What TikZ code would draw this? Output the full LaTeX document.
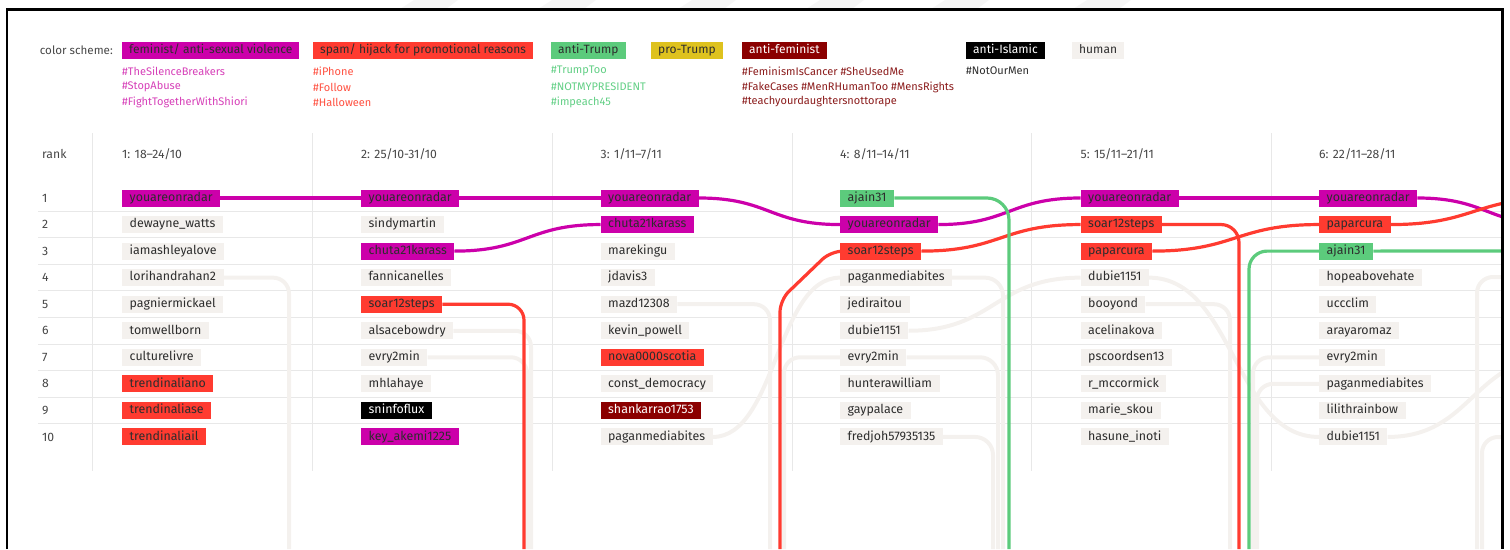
\documentclass[tikz,border=0pt]{standalone}
\usepackage{fontspec}
\setmainfont{Fira Sans}
\usetikzlibrary{calc}
\definecolor{cfem}{RGB}{204,0,170}
\definecolor{cspam}{RGB}{255,59,48}
\definecolor{catr}{RGB}{92,203,124}
\definecolor{cptr}{RGB}{222,194,30}
\definecolor{cafem}{RGB}{139,0,0}
\definecolor{chum}{RGB}{244,241,238}
\definecolor{clhum}{RGB}{244,241,238}
\definecolor{tdark}{RGB}{45,45,45}
\definecolor{tgray}{RGB}{70,70,70}
\definecolor{tfem}{RGB}{214,64,184}
\definecolor{tspam}{RGB}{255,80,64}
\definecolor{tatr}{RGB}{98,207,133}
\definecolor{tafem}{RGB}{139,28,28}
\definecolor{gridc}{RGB}{232,232,232}
\definecolor{wmark}{RGB}{246,246,246}
\pgfdeclarelayer{grid}\pgfdeclarelayer{hline}\pgfdeclarelayer{cline}
\pgfsetlayers{grid,hline,cline,main}
\newcommand\slink[3]{\draw[#1] let \p1=(#2.east), \p2=(#3) in (\p1) .. controls ({(\x1+\x2)/2},\y1) and ({(\x1+\x2)/2},\y2) .. (\p2);}
\begin{document}
\begin{tikzpicture}[x=1pt,y=-1pt,
  box/.style={anchor=west, inner xsep=7.5pt, inner ysep=0pt, minimum height=17pt, text height=9.2pt, text depth=2.6pt, font=\fontsize{12.4}{14}\selectfont, text=tdark},
  lgbox/.style={box, inner xsep=7pt, font=\fontsize{12}{14}\selectfont},
  bfem/.style={fill=cfem},
  bspam/.style={fill=cspam},
  batr/.style={fill=catr},
  bptr/.style={fill=cptr},
  bafem/.style={fill=cafem, text=white},
  bisl/.style={fill=black, text=white},
  bhum/.style={fill=chum},
  lab/.style={anchor=west, inner sep=0pt, font=\fontsize{12.2}{14}\selectfont, text=tgray},
  tag/.style={anchor=west, inner sep=0pt, font=\fontsize{11}{12}\selectfont},
  lfem/.style={draw=cfem, line width=3.2pt},
  lspam/.style={draw=cspam, line width=3.2pt},
  latr/.style={draw=catr, line width=3.2pt},
  lhum/.style={draw=clhum, line width=4pt},
  gridline/.style={draw=gridc, line width=1pt}]
\useasboundingbox (0,0) rectangle (1510,549);

% faint watermark above frame
\foreach \a in {400,538,678,806,931,1073}
  \fill[wmark] (\a,9) -- (\a+14,0) -- (\a+58,0) -- (\a+46,9) -- cycle;

% legend
\node[lab, anchor=east, font=\fontsize{11.6}{14}\selectfont] (lgtitle) at (113,50) {color scheme:};
\node[lgbox,bfem] (lgfem) at (122,50) {feminist/ anti-sexual violence};
\node[lgbox,bspam] (lgspam) at (313,50) {spam/ hijack for promotional reasons};
\node[lgbox,batr] (lgatr) at (551,50) {anti-Trump};
\node[lgbox,bptr] (lgptr) at (651,50) {pro-Trump};
\node[lgbox,bafem] (lgafem) at (742,50) {anti-feminist};
\node[lgbox,bisl] (lgisl) at (966,50) {anti-Islamic};
\node[lgbox,bhum] (lghum) at (1072,50) {human};
\node[tag,text=tfem] (tf1) at (122,71) {\#TheSilenceBreakers};
\node[tag,text=tfem] (tf2) at (122,87) {\#StopAbuse};
\node[tag,text=tfem] (tf3) at (122,102) {\#FightTogetherWithShiori};
\node[tag,text=tspam] (ts1) at (313,71) {\#iPhone};
\node[tag,text=tspam] (ts2) at (313,87) {\#Follow};
\node[tag,text=tspam] (ts3) at (313,102) {\#Halloween};
\node[tag,text=tatr] (ta1) at (551,71) {\#TrumpToo};
\node[tag,text=tatr] (ta2) at (551,87) {\#NOTMYPRESIDENT};
\node[tag,text=tatr] (ta3) at (551,102) {\#impeach45};
\node[tag,text=tafem] (tm1) at (742,71) {\#FeminismIsCancer \#SheUsedMe};
\node[tag,text=tafem] (tm2) at (742,87) {\#FakeCases \#MenRHumanToo \#MensRights};
\node[tag,text=tafem] (tm3) at (742,102) {\#teachyourdaughtersnottorape};
\node[tag,text=tdark] (ti1) at (966,71) {\#NotOurMen};

% headers
\node[lab] (hrank) at (42,154) {rank};
\node[lab] (h1) at (122,154) {1: 18–24/10};
\node[lab] (h2) at (361,154) {2: 25/10-31/10};
\node[lab] (h3) at (600.5,154) {3: 1/11–7/11};
\node[lab] (h4) at (840,154) {4: 8/11–14/11};
\node[lab] (h5) at (1080.5,154) {5: 15/11–21/11};
\node[lab] (h6) at (1319,154) {6: 22/11–28/11};
\foreach \r in {1,...,10}
  \node[lab] (rk\r) at (42,{198+(\r-1)*26.55}) {\r};

% grid
\begin{pgfonlayer}{grid}
\foreach \r in {1,...,9}
  \draw[gridline] (38,{211.3+(\r-1)*26.55}) -- (1501,{211.3+(\r-1)*26.55});
\foreach \x in {92,312,552,792,1031,1271}
  \draw[gridline] (\x,133) -- (\x,471);
\end{pgfonlayer}

% columns
\foreach \t/\s [count=\r] in {youareonradar/bfem, dewayne\_watts/bhum, iamashleyalove/bhum, lorihandrahan2/bhum, pagniermickael/bhum, tomwellborn/bhum, culturelivre/bhum, trendinaliano/bspam, trendinaliase/bspam, trendinaliail/bspam}
  \node[box,\s] (c1r\r) at (122,{198+(\r-1)*26.55}) {\t};
\foreach \t/\s [count=\r] in {youareonradar/bfem, sindymartin/bhum, chuta21karass/bfem, fannicanelles/bhum, soar12steps/bspam, alsacebowdry/bhum, evry2min/bhum, mhlahaye/bhum, sninfoflux/bisl, key\_akemi1225/bfem}
  \node[box,\s] (c2r\r) at (361,{198+(\r-1)*26.55}) {\t};
\foreach \t/\s [count=\r] in {youareonradar/bfem, chuta21karass/bfem, marekingu/bhum, jdavis3/bhum, mazd12308/bhum, kevin\_powell/bhum, nova0000scotia/bspam, const\_democracy/bhum, shankarrao1753/bafem, paganmediabites/bhum}
  \node[box,\s] (c3r\r) at (600.5,{198+(\r-1)*26.55}) {\t};
\foreach \t/\s [count=\r] in {ajain31/batr, youareonradar/bfem, soar12steps/bspam, paganmediabites/bhum, jediraitou/bhum, dubie1151/bhum, evry2min/bhum, hunterawilliam/bhum, gaypalace/bhum, fredjoh57935135/bhum}
  \node[box,\s] (c4r\r) at (840,{198+(\r-1)*26.55}) {\t};
\foreach \t/\s [count=\r] in {youareonradar/bfem, soar12steps/bspam, paparcura/bspam, dubie1151/bhum, booyond/bhum, acelinakova/bhum, pscoordsen13/bhum, r\_mccormick/bhum, marie\_skou/bhum, hasune\_inoti/bhum}
  \node[box,\s] (c5r\r) at (1080.5,{198+(\r-1)*26.55}) {\t};
\foreach \t/\s [count=\r] in {youareonradar/bfem, paparcura/bspam, ajain31/batr, hopeabovehate/bhum, uccclim/bhum, arayaromaz/bhum, evry2min/bhum, paganmediabites/bhum, lilithrainbow/bhum, dubie1151/bhum}
  \node[box,\s] (c6r\r) at (1319,{198+(\r-1)*26.55}) {\t};

% off-picture end points
\coordinate (dA) at (289,549);
\coordinate (dB) at (531,549);
\coordinate (dC) at (527,549);
\coordinate (dD) at (770,549);
\coordinate (dE) at (1003,549);
\coordinate (dF) at (998,549);
\coordinate (dG) at (993,549);
\coordinate (dH) at (1230,549);
\coordinate (uA) at (784,549);
\coordinate (uB) at (1253,549);
\coordinate (uC) at (1257,549);
\coordinate (uD) at (1477,549);
\coordinate (uE) at (1482,549);
\coordinate (eA) at (1558,357);
\coordinate (eB) at (1558,277);
\coordinate (eC) at (1558,437);
\coordinate (sA) at (524,549);
\coordinate (sB) at (780,549);
\coordinate (sB1) at (780,300);
\coordinate (sB2) at (831,251);
\coordinate (sC) at (1239,549);
\coordinate (gA) at (1009,549);
\coordinate (gB) at (1249,549);
\coordinate (eF) at (1558,225);
\coordinate (eS) at (1558,198);
\coordinate (eG) at (1558,251);

% human lines
\begin{pgfonlayer}{hline}
\begin{scope}
\clip (0,0) rectangle (1502,549);
\draw[lhum, rounded corners=16pt] (c1r4.east) -| (dA);
\draw[lhum, rounded corners=16pt] (c2r6.east) -| (dB);
\draw[lhum, rounded corners=16pt] (c2r7.east) -| (dC);
\draw[lhum, rounded corners=16pt] (c3r5.east) -| (dD);
\slink{lhum}{c3r10}{c4r4.west}
\draw[lhum, rounded corners=18pt] (c4r4.east) -| (dE);
\draw[lhum, rounded corners=18pt] (c4r7.east) -| (dF);
\draw[lhum, rounded corners=18pt] (c4r10.east) -| (dG);
\slink{lhum}{c4r6}{c5r4.west}
\draw[lhum, rounded corners=16pt] (uA) |- (c4r7.west);
\slink{lhum}{c5r4}{c6r10.west}
\draw[lhum, rounded corners=16pt] (c5r5.east) -| (dH);
\draw[lhum, rounded corners=16pt] (uB) |- (c6r7.west);
\draw[lhum, rounded corners=16pt] (uC) |- (c6r8.west);
\slink{lhum}{c6r10}{eA}
\draw[lhum, rounded corners=16pt] (uD) |- (eB);
\draw[lhum, rounded corners=16pt] (uE) |- (eC);
\end{scope}
\end{pgfonlayer}

% coloured lines
\begin{pgfonlayer}{cline}
\begin{scope}
\clip (0,0) rectangle (1502,549);
\draw[lfem] (c1r1.east) -- (c2r1.west);
\draw[lfem] (c2r1.east) -- (c3r1.west);
\slink{lfem}{c2r3}{c3r2.west}
\slink{lfem}{c3r1}{c4r2.west}
\slink{lfem}{c4r2}{c5r1.west}
\draw[lfem] (c5r1.east) -- (c6r1.west);
\slink{lfem}{c6r1}{eF}
\draw[lspam, rounded corners=16pt] (c2r5.east) -| (sA);
\draw[lspam, rounded corners=12pt] (sB) -- (sB1) -- (sB2) -- (c4r3.west);
\slink{lspam}{c4r3}{c5r2.west}
\draw[lspam, rounded corners=18pt] (c5r2.east) -| (sC);
\slink{lspam}{c5r3}{c6r2.west}
\slink{lspam}{c6r2}{eS}
\draw[latr, rounded corners=22pt] (c4r1.east) -| (gA);
\draw[latr, rounded corners=18pt] (gB) |- (c6r3.west);
\draw[latr] (c6r3.east) -- (eG);
\end{scope}
\end{pgfonlayer}

% frame
\draw[line width=2.6pt] (7,549) -- (7,9.5) -- (1502.5,9.5) -- (1502.5,549);
\end{tikzpicture}
\end{document}
